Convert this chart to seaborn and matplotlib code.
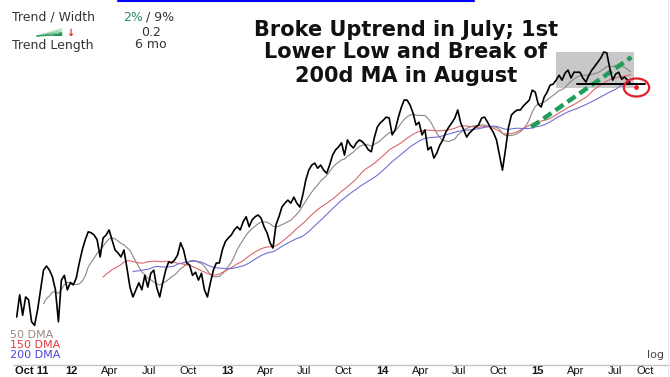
import numpy as np
import pandas as pd
import matplotlib
matplotlib.use("Agg")
import matplotlib.pyplot as plt
import matplotlib.dates as mdates
from matplotlib.lines import Line2D
from matplotlib.patches import Rectangle, Polygon
from matplotlib.markers import MarkerStyle
from matplotlib.transforms import Affine2D
from matplotlib.ticker import NullLocator
import seaborn as sns

# ---------------- data ----------------
first_week = "2011-08-26"          # weekly closes (Fridays)
close = [
    622, 661, 625, 657, 652, 614, 608, 634, 670, 707,
    715, 707, 694, 670, 614, 688, 697, 670, 683, 679,
    692, 721, 747, 768, 785, 783, 778, 768, 733, 772,
    778, 789, 768, 747, 741, 733, 747, 711, 675, 657,
    670, 683, 670, 697, 675, 701, 707, 674, 657, 683,
    707, 723, 721, 727, 737, 762, 747, 721, 717, 697,
    703, 688, 701, 670, 657, 683, 707, 721, 721, 747,
    764, 772, 778, 789, 796, 789, 807, 818, 796, 811,
    818, 822, 815, 796, 783, 762, 751, 800, 818, 840,
    849, 856, 849, 863, 849, 840, 868, 904, 929, 942,
    947, 934, 942, 929, 921, 942, 968, 982, 990, 1001,
    968, 1009, 995, 987, 1001, 1009, 1004, 995, 982, 977,
    1015, 1045, 1057, 1065, 1074, 1071, 1023, 1037, 1071, 1101,
    1125, 1125, 1110, 1086, 1051, 1059, 1023, 1037, 982, 990,
    960, 974, 995, 1009, 1031, 1045, 1057, 1071, 1095, 1057,
    1037, 1017, 1029, 1037, 1045, 1051, 1071, 1074, 1059, 1043,
    1029, 1009, 968, 929, 982, 1043, 1080, 1089, 1095, 1095,
    1107, 1116, 1125, 1156, 1150, 1113, 1104, 1134, 1150, 1172,
    1175, 1188, 1204, 1188, 1211, 1221, 1195, 1214, 1214, 1214,
    1195, 1182, 1204, 1221, 1234, 1248, 1262, 1283, 1280, 1228,
    1188, 1208, 1214, 1191, 1198, 1188, 1175,
]

ma_names = ["50 DMA", "150 DMA", "200 DMA"]
ma_weeks = [10, 30, 40]
ma_colors = ["#8f8580", "#d9686b", "#7070d6"]
ma_label_colors = ["#9a8a80", "#e8383d", "#4646d8"]

tick_dates = ["2011-10-01", "2012-01-01", "2012-04-01", "2012-07-01", "2012-10-01",
              "2013-01-01", "2013-04-01", "2013-07-01", "2013-10-01",
              "2014-01-01", "2014-04-01", "2014-07-01", "2014-10-01",
              "2015-01-01", "2015-04-01", "2015-07-01", "2015-10-01"]
tick_labels = ["Oct 11", "12", "Apr", "Jul", "Oct", "13", "Apr", "Jul", "Oct",
               "14", "Apr", "Jul", "Oct", "15", "Apr", "Jul", "Oct"]
year_labels = {"Oct 11", "12", "13", "14", "15"}

title_lines = ["Broke Uptrend in July; 1st", "Lower Low and Break of", "200d MA in August"]

# annotation geometry (dates / index levels)
box_dates, box_levels = ("2015-02-13", "2015-08-15"), (1163, 1283)
support_dates, support_level = ("2015-04-03", "2015-09-10"), 1176
trend_dates, trend_levels = ("2014-12-17", "2015-08-09"), (1045, 1265)
break_date, break_level = "2015-08-19", 1166

# ---------------- frame ----------------
df = pd.DataFrame({"date": pd.date_range(first_week, periods=len(close), freq="7D"),
                   "close": close})
for name, w in zip(ma_names, ma_weeks):
    df[name] = df["close"].rolling(w, min_periods=w).mean()

sns.set_theme(style="white")
plt.rcParams["font.family"] = ["DejaVu Sans"]

W, H = 670, 377
fig = plt.figure(figsize=(W / 100, H / 100), dpi=100)
fig.patch.set_facecolor("white")
ax = fig.add_axes([0, 12 / H, 1, 365 / H])
ax.set_facecolor("white")

def fx(px):
    return px / W

def fy(py):
    return 1 - py / H

# moving averages then price
for name, c in zip(ma_names, ma_colors):
    sns.lineplot(data=df, x="date", y=name, ax=ax, color=c, lw=0.8, zorder=3)
sns.lineplot(data=df, x="date", y="close", ax=ax, color="black", lw=1.2, zorder=5)

ax.set_yscale("log")
ref = mdates.date2num(pd.Timestamp("2013-01-01"))
px_per_day = 155.5 / 365.25
ax.set_xlim(ref - 227 / px_per_day, ref + 443 / px_per_day)
ax.set_ylim(545.6, 1478.8)
ax.yaxis.set_major_locator(NullLocator())
ax.yaxis.set_minor_locator(NullLocator())
ax.set_xlabel("")
ax.set_ylabel("")
for s in ax.spines.values():
    s.set_visible(False)

ax.set_xticks([mdates.date2num(pd.Timestamp(d)) for d in tick_dates])
ax.set_xticklabels(tick_labels)
ax.tick_params(axis="x", length=0, pad=1, labelsize=8, colors="#111111")
for t in ax.get_xticklabels():
    t.set_fontfamily(["Liberation Sans", "DejaVu Sans"])
    if t.get_text() in year_labels:
        t.set_fontweight("bold")
    if t.get_text() == "Oct" and t is ax.get_xticklabels()[-1]:
        t.set_horizontalalignment("right")
        t.set_x(t.get_position()[0])

# highlight box over the topping range
d0, d1 = [mdates.date2num(pd.Timestamp(d)) for d in box_dates]
ax.add_patch(Rectangle((d0, box_levels[0]), d1 - d0, box_levels[1] - box_levels[0],
                       facecolor="#c8c8c8", edgecolor="none", zorder=1))

# broken uptrend line
t0, t1 = [mdates.date2num(pd.Timestamp(d)) for d in trend_dates]
ax.plot([t0, t1], trend_levels, color="#1e9e5a", lw=3.2, dashes=(2.2, 1.1),
        solid_capstyle="butt", dash_capstyle="butt", zorder=4)

# support line
s0, s1 = [mdates.date2num(pd.Timestamp(d)) for d in support_dates]
ax.plot([s0, s1], [support_level, support_level], color="black", lw=1.4, zorder=6)

# break marker
bx = mdates.date2num(pd.Timestamp(break_date))
ring = MarkerStyle("o", transform=Affine2D().scale(1.4, 1.0))
ax.plot([bx], [break_level], marker=ring, ms=13, mfc="none", mec="#e3202a", mew=1.6,
        ls="none", zorder=7)
ax.plot([bx], [break_level], marker="o", ms=2.5, color="#e3202a", ls="none", zorder=7)

# baseline and frame lines
fig.add_artist(Line2D([fx(13), fx(670)], [fy(365), fy(365)], color="#c4c4c4", lw=1.0))
fig.add_artist(Line2D([fx(668), fx(668)], [fy(0), fy(377)], color="#ececec", lw=1.0))
fig.add_artist(Line2D([fx(118), fx(474)], [fy(0.8), fy(0.8)], color="#0000ff", lw=1.5))

# title
for txt, base in zip(title_lines, [36, 57.5, 81.5]):
    fig.text(fx(406), fy(base), txt, ha="center", va="baseline",
             fontsize=15, fontweight="bold", color="#111111")

# trend summary panel
info = dict(fontsize=9, color="#333333", va="baseline")
fig.text(fx(12), fy(21), "Trend / Width", ha="left", **info)
fig.text(fx(123), fy(21), "2%", ha="left", fontsize=9, color="#2a8a6a", va="baseline")
fig.text(fx(146), fy(21), "/ 9%", ha="left", **info)
fig.text(fx(151), fy(36.5), "0.2", ha="center", **info)
fig.text(fx(12), fy(48.5), "Trend Length", ha="left", **info)
fig.text(fx(151), fy(48.5), "6 mo", ha="center", **info)
for yy, c in zip([28.5, 30.5, 32.5, 34.5], ["#b9e0c8", "#8fcfa8", "#5bb883", "#2a9a5c"]):
    fig.add_artist(Line2D([fx(37), fx(62)], [fy(36), fy(yy)], color=c, lw=0.9))
fig.add_artist(Polygon([[fx(50), fy(36)], [fx(62), fy(32)], [fx(62), fy(36)]],
                       closed=True, facecolor="#1e8a4e", edgecolor="none"))
fig.text(fx(70.5), fy(36), "\u2193", ha="center", va="baseline", fontsize=7,
         fontweight="bold", color="#e3202a")

# moving-average legend
for name, c, base in zip(ma_names, ma_label_colors, [338, 348, 358]):
    fig.text(fx(10.5), fy(base), name, ha="left", va="baseline", fontsize=8, color=c)

fig.text(fx(656), fy(358), "log", ha="center", va="baseline", fontsize=8, color="#444444")

fig.savefig("out.png", dpi=100)
